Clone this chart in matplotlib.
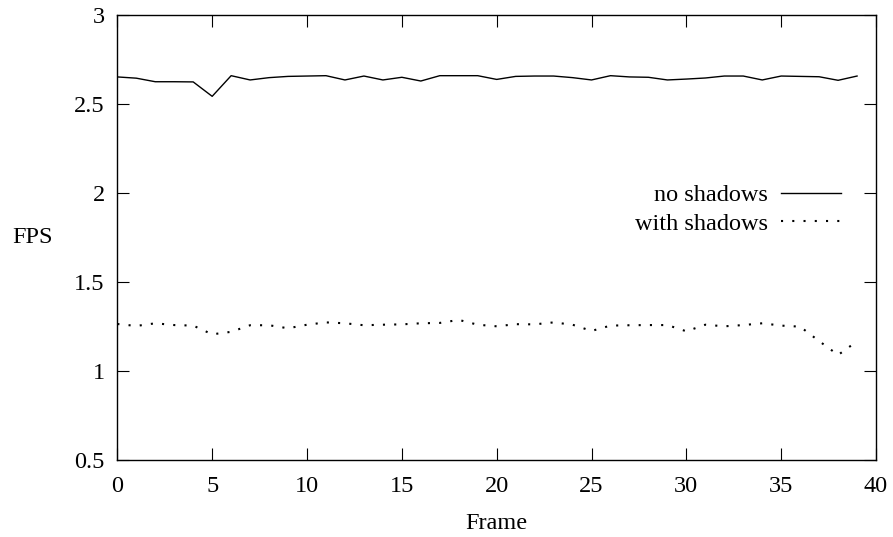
# -*- encoding: utf8 -*-
import matplotlib
matplotlib.use("Agg")
import matplotlib.pyplot as plt
import matplotlib.ticker as ticker
import numpy as np


frames = np.arange(40)

fps_no_shadows = [
    2.652, 2.645, 2.625, 2.625, 2.624, 2.543, 2.659, 2.635, 2.648, 2.655,
    2.657, 2.659, 2.635, 2.657, 2.635, 2.650, 2.629, 2.659, 2.659, 2.659,
    2.638, 2.655, 2.657, 2.657, 2.648, 2.635, 2.659, 2.652, 2.650, 2.635,
    2.640, 2.646, 2.657, 2.657, 2.635, 2.657, 2.655, 2.653, 2.633, 2.657,
]

fps_with_shadows = [
    1.264, 1.253, 1.268, 1.258, 1.255, 1.206, 1.220, 1.257, 1.257, 1.240,
    1.260, 1.273, 1.268, 1.257, 1.260, 1.262, 1.268, 1.270, 1.287, 1.260,
    1.251, 1.263, 1.262, 1.273, 1.260, 1.225, 1.255, 1.257, 1.258, 1.258,
    1.223, 1.260, 1.251, 1.258, 1.268, 1.255, 1.249, 1.168, 1.090, 1.167,
]

series_labels = ["no shadows", "with shadows"]
x_ticks = np.arange(0, 41, 5)
y_ticks = [0.5, 1, 1.5, 2, 2.5, 3]

font_size = 17.5  # Points...

plt.rcParams["font.family"] = ["Liberation Serif", "DejaVu Serif"]
plt.rcParams["font.size"] = font_size


figure = plt.figure(figsize=(8.93, 5.37), dpi=100)
axis = figure.add_axes([0.1314, 0.1434, 0.8496, 0.8287])

axis.plot(
    frames, fps_no_shadows, color="black", linewidth=1.0,
    label=series_labels[0])
axis.plot(
    frames, fps_with_shadows, color="black", linewidth=1.5,
    linestyle=(0, (1, 4.4)), label=series_labels[1])

axis.set_xlim(0, 40)
axis.set_ylim(0.5, 3)
axis.set_xticks(x_ticks)
axis.set_yticks(y_ticks)
axis.yaxis.set_major_formatter(ticker.FuncFormatter(lambda v, p: "{:g}".format(v)))

axis.tick_params(
    direction="in", length=8.6, width=0.8, top=True, right=True,
    colors="black")
axis.tick_params(axis="x", pad=11.3)
axis.tick_params(axis="y", pad=9)
for spine in axis.spines.values():
    spine.set_linewidth(1.0)

axis.set_xlabel("Frame", va="center")
axis.xaxis.set_label_coords(0.5, -0.1416)
axis.set_ylabel("FPS", rotation=0, va="center", ha="center")
axis.yaxis.set_label_coords(-0.1124, 0.5)

axis.legend(
    loc="center right", bbox_to_anchor=(0.9535, 0.563),
    frameon=False, markerfirst=False, borderpad=0, borderaxespad=0,
    handlelength=2.45, handletextpad=0.53, labelspacing=0.26)

plt.savefig("out.png", dpi=100)
